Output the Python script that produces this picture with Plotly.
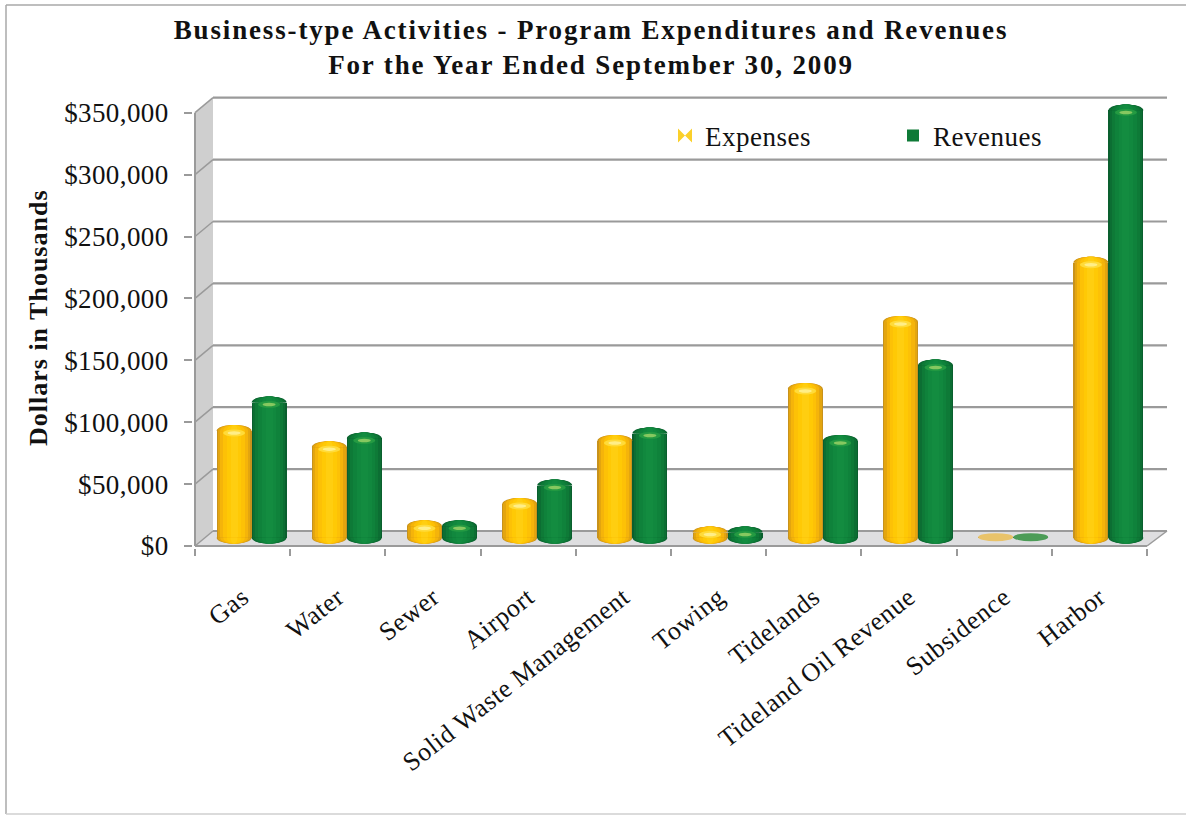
import plotly.graph_objects as go

categories = ["Gas", "Water", "Sewer", "Airport", "Solid Waste Management", "Towing",
              "Tidelands", "Tideland Oil Revenue", "Subsidence", "Harbor"]
expenses = [86000, 73000, 9000, 27000, 78000, 4000, 120000, 174000, 300, 222000]
revenues = [109000, 80000, 9000, 42000, 84000, 4000, 78000, 139000, 300, 345000]
y_ticks = [0, 50000, 100000, 150000, 200000, 250000, 300000, 350000]
y_tick_labels = ["$0", "$50,000", "$100,000", "$150,000", "$200,000", "$250,000", "$300,000", "$350,000"]

title_text = "Business-type Activities - Program Expenditures and Revenues<br>For the Year Ended September 30, 2009"
y_title = "Dollars in Thousands"

W, H = 1186, 815
PLOT_L, PLOT_R, PLOT_T, PLOT_B = 193, 1169, 94, 548
FRONT_L, FRONT_R, ZERO_PX = 195, 1147, 546
PX_PER_CAT = (FRONT_R - FRONT_L) / len(categories)
PX_PER_UNIT = 1.238 / 1000
DEPTH_X, DEPTH_Y = 18, 15


def X(px):
    return (px - FRONT_L) / PX_PER_CAT - 0.5


def dx(px):
    return px / PX_PER_CAT


def dy(px):
    return px / PX_PER_UNIT


x_range = [X(PLOT_L), X(PLOT_R)]
y_range = [dy(ZERO_PX - PLOT_B), dy(ZERO_PX - PLOT_T)]
cat_x = list(range(len(categories)))
boundaries = [i - 0.5 for i in range(len(categories) + 1)]

BAR_W = dx(35)
SHIFT = dx(9)
BASE = dy(8.5)
CAP = dy(6)

fractions = [1.0, 0.93, 0.8, 0.62, 0.42, 0.2]
yellow = ["#c8921c", "#e3a50f", "#f5b40a", "#fdc106", "#ffc905", "#ffce10"]
green = ["#0a5f2e", "#0c6e33", "#0e7a37", "#0f823b", "#11883e", "#138c40"]

GRID = "#9a9a9a"
WALL = "#cfcfcf"
FLOOR = "#dedee0"

fig = go.Figure()
shapes = []


def paper_x(px):
    return (px - PLOT_L) / (PLOT_R - PLOT_L)


def paper_y(px):
    return (PLOT_B - px) / (PLOT_B - PLOT_T)


# outer border
for x0, y0, x1, y1, c in [(6, 5, 1186, 5, "#a8a8a8"), (6, 5, 6, 814, "#a8a8a8"), (6, 814, 1186, 814, "#cfcfcf")]:
    shapes.append(dict(type="line", xref="paper", yref="paper", layer="below",
                       x0=paper_x(x0), y0=paper_y(y0), x1=paper_x(x1), y1=paper_y(y1),
                       line=dict(color=c, width=1.5)))

xl, xr = X(FRONT_L), X(FRONT_R)
bx, by = dx(DEPTH_X), dy(DEPTH_Y)
ymax = y_ticks[-1]
# side wall and floor
shapes.append(dict(type="path", layer="below", line=dict(width=0), fillcolor=WALL,
                   path=f"M {xl},0 L {xl + bx},{by} L {xl + bx},{ymax + by} L {xl},{ymax} Z"))
shapes.append(dict(type="path", layer="below", line=dict(width=0), fillcolor=FLOOR,
                   path=f"M {xl},0 L {xl + bx},{by} L {xr + dx(20)},{by} L {xr},0 Z"))
# grid and slanted connectors
for t in y_ticks:
    shapes.append(dict(type="line", layer="below", x0=xl + bx, x1=xr + dx(20), y0=t + by, y1=t + by,
                       line=dict(color=GRID, width=2.2)))
    shapes.append(dict(type="line", layer="below", x0=xl, x1=xl + bx, y0=t, y1=t + by,
                       line=dict(color=GRID, width=1.5)))
shapes.append(dict(type="line", layer="below", x0=xl, x1=xl, y0=0, y1=ymax, line=dict(color=GRID, width=2)))
shapes.append(dict(type="line", layer="below", x0=xl, x1=xr, y0=0, y1=0, line=dict(color=GRID, width=2.2)))
shapes.append(dict(type="line", layer="below", x0=xr, x1=xr + dx(20), y0=0, y1=by, line=dict(color=GRID, width=1.5)))


def half_ellipse(x, hw, yc, h):
    ctrl = yc + h * 4 / 3
    return f"M {x - hw},{yc} C {x - hw},{ctrl} {x + hw},{ctrl} {x + hw},{yc} Z"


def oval(x, yc, w_px, h_px, color):
    return dict(type="circle", layer="above", line=dict(width=0), fillcolor=color,
                x0=x - dx(w_px) / 2, x1=x + dx(w_px) / 2, y0=yc - dy(h_px) / 2, y1=yc + dy(h_px) / 2)


def add_series(values, offset, palette, glow, hilite, faded):
    xs = [c + SHIFT + offset for c in cat_x]
    for f, col in zip(fractions, palette):
        fig.add_trace(go.Bar(x=xs, y=values, base=BASE, width=BAR_W * f, marker=dict(color=col, line=dict(width=0)),
                             showlegend=False, hoverinfo="skip"))
    for x, v in zip(xs, values):
        if v < 1000:
            shapes.append(oval(x, BASE + v, 35, 8, faded))
            continue
        for f, col in zip(fractions, palette):
            hw = BAR_W * f / 2
            shapes.append(dict(type="path", layer="above", line=dict(width=0), fillcolor=col,
                               path=half_ellipse(x, hw, BASE, -CAP)))
            shapes.append(dict(type="path", layer="above", line=dict(width=0), fillcolor=col,
                               path=half_ellipse(x, hw, BASE + v, CAP)))
        yh = BASE + v - dy(2)
        shapes.append(oval(x, yh, 22, 7, glow))
        shapes.append(oval(x, yh, 13, 3.5, hilite))


add_series(expenses, -BAR_W / 2, yellow, "#ffdb3a", "#ffee88", "#e9c36a")
add_series(revenues, BAR_W / 2, green, "#249a42", "#86c860", "#4c9c57")

fig.add_trace(go.Scatter(x=[None], y=[None], name="Expenses", mode="markers",
                         marker=dict(symbol="bowtie", size=14, color="#fbd02a")))
fig.add_trace(go.Scatter(x=[None], y=[None], name="Revenues", mode="markers",
                         marker=dict(symbol="square", size=12, color="#0e7a37")))

SERIF = "Liberation Serif"
fig.update_layout(
    width=W, height=H, autosize=False,
    margin=dict(l=PLOT_L, r=W - PLOT_R, t=PLOT_T, b=H - PLOT_B, pad=0),
    paper_bgcolor="white", plot_bgcolor="white",
    barmode="overlay", bargap=0,
    font=dict(family=SERIF, color="#111111"),
    title=dict(text=title_text, x=591 / W, xref="container", xanchor="center",
               y=1 - 39 / H, yref="container", yanchor="top",
               font=dict(family=SERIF, size=27, weight=700, color="#111111")),
    xaxis=dict(range=x_range, tickmode="array", tickvals=cat_x, ticktext=categories, tickangle=-38,
               ticks="", showgrid=False, zeroline=False, showline=False, ticklabelstandoff=28,
               tickfont=dict(family=SERIF, size=26, color="#111111"),
               minor=dict(tickmode="array", tickvals=boundaries, ticks="outside", ticklen=7,
                          tickwidth=1.5, tickcolor=GRID, showgrid=False)),
    yaxis=dict(range=y_range, tickmode="array", tickvals=y_ticks, ticktext=y_tick_labels,
               ticks="outside", ticklen=8, tickwidth=1.5, tickcolor=GRID, showgrid=False, zeroline=False,
               showline=False, ticklabelstandoff=10, tickfont=dict(family=SERIF, size=27, color="#111111")),
    annotations=[dict(text=f"<b>{y_title}</b>", xref="paper", yref="paper", x=paper_x(38), y=paper_y(318),
                      xanchor="center", yanchor="middle", textangle=-90, showarrow=False,
                      font=dict(family=SERIF, size=26, color="#111111"))],
    legend=dict(orientation="h", x=paper_x(665), y=paper_y(136), xanchor="left", yanchor="middle",
                entrywidth=183, entrywidthmode="pixels", bgcolor="rgba(0,0,0,0)",
                font=dict(family=SERIF, size=27, color="#111111")),
    shapes=shapes,
)

post = """
document.body.style.margin='0';document.body.style.overflow='hidden';
var sp=function(sel,v){document.querySelectorAll(sel).forEach(function(e){e.style.letterSpacing=v;});};
sp('.gtitle','1.85px');sp('.ytick text','0.4px');sp('.xtick text','0.6px');
sp('.legendtext','0.5px');sp('.annotation-text','1px');
"""
fig.write_html("out.html", post_script=post, config={"displayModeBar": False})
